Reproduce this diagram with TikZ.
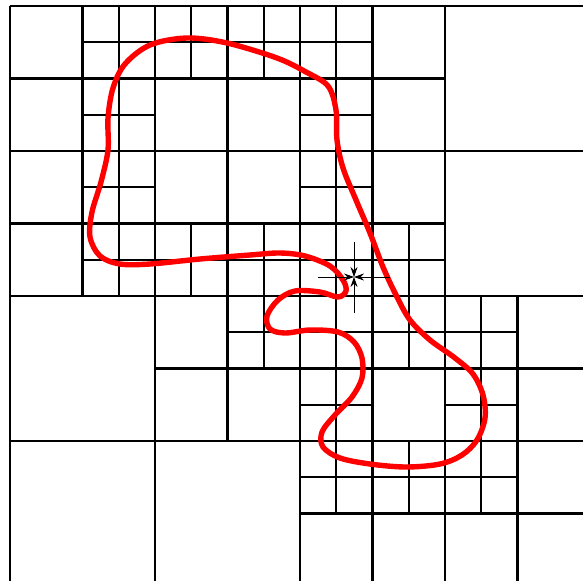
\documentclass[tikz,border=0pt]{standalone}
\usepackage{tikz}
\usetikzlibrary{arrows.meta}
\definecolor{front}{RGB}{255,0,0}

\begin{document}
\begin{tikzpicture}[>={Stealth[length=8.5pt,width=6pt]},x=0.03cm,y=-0.03cm,
  cell/.style={line width=1.85pt,black},
  interface/.style={line width=4.6pt,front,line join=round},
  probe/.style={line width=0.7pt,black}]
  \useasboundingbox (0,0) rectangle (583,580);
  \clip (0,0) rectangle (583,580);
  % quadtree mesh, one unit = finest cell
  \begin{scope}[shift={(10,6)},x=1.0875cm,y=-1.0875cm]
    \def\subdiv#1#2#3{%
      \draw[cell] (#1+#3/2,#2) -- (#1+#3/2,#2+#3);
      \draw[cell] (#1,#2+#3/2) -- (#1+#3,#2+#3/2);}
    % coarse level
    \foreach \k in {0,4,...,16} {
      \draw[cell] (\k,0) -- (\k,16);
      \draw[cell] (0,\k) -- (16,\k);
    }
    % second level
    \foreach \a/\b in {0/0,0/4,4/0,4/4,8/0,8/4,4/8,8/8,8/12,12/8,12/12} {
      \subdiv{\a}{\b}{4}
    }
    % finest level
    \foreach \a/\b in {2/0,2/2,4/0,6/0,8/0,8/2,2/4,2/6,4/6,6/6,8/4,8/6,10/6,
                       6/8,8/8,10/8,8/10,8/12,10/12,12/8,12/10,12/12} {
      \subdiv{\a}{\b}{2}
    }
  \end{scope}
  % interface (red)
  \draw[interface] plot[smooth cycle,tension=0.55] coordinates {
    (187,38) (227,43) (277,58) (306,72) (328,86) (336,110) (337,140)
    (343,168) (356,200) (370,233) (383,267) (396,295) (410,320) (430,340)
    (455,358) (473,374) (483,395) (485,418) (477,440) (462,455) (440,464)
    (406,467) (370,464) (340,458) (323,447) (322,432) (335,415) (352,397)
    (362,378) (362,358) (354,342) (338,332) (310,330) (285,333) (270,329)
    (267,316) (278,300) (295,291) (320,292) (338,297) (346,291) (343,280)
    (330,266) (305,256) (280,253) (250,255) (200,259) (150,264) (120,264)
    (100,256) (90,237) (92,212) (101,182) (108,150) (108,118) (113,88)
    (125,64) (150,45)};
  % four arrows meeting at one point
  \coordinate (tip) at (354,277);
  \coordinate (west) at (318,277);
  \coordinate (east) at (390,277);
  \coordinate (north) at (354,242);
  \coordinate (south) at (354,313);
  \foreach \s in {west,east,north,south}
    \draw[probe,->] (\s) -- (tip);
\end{tikzpicture}
\end{document}
